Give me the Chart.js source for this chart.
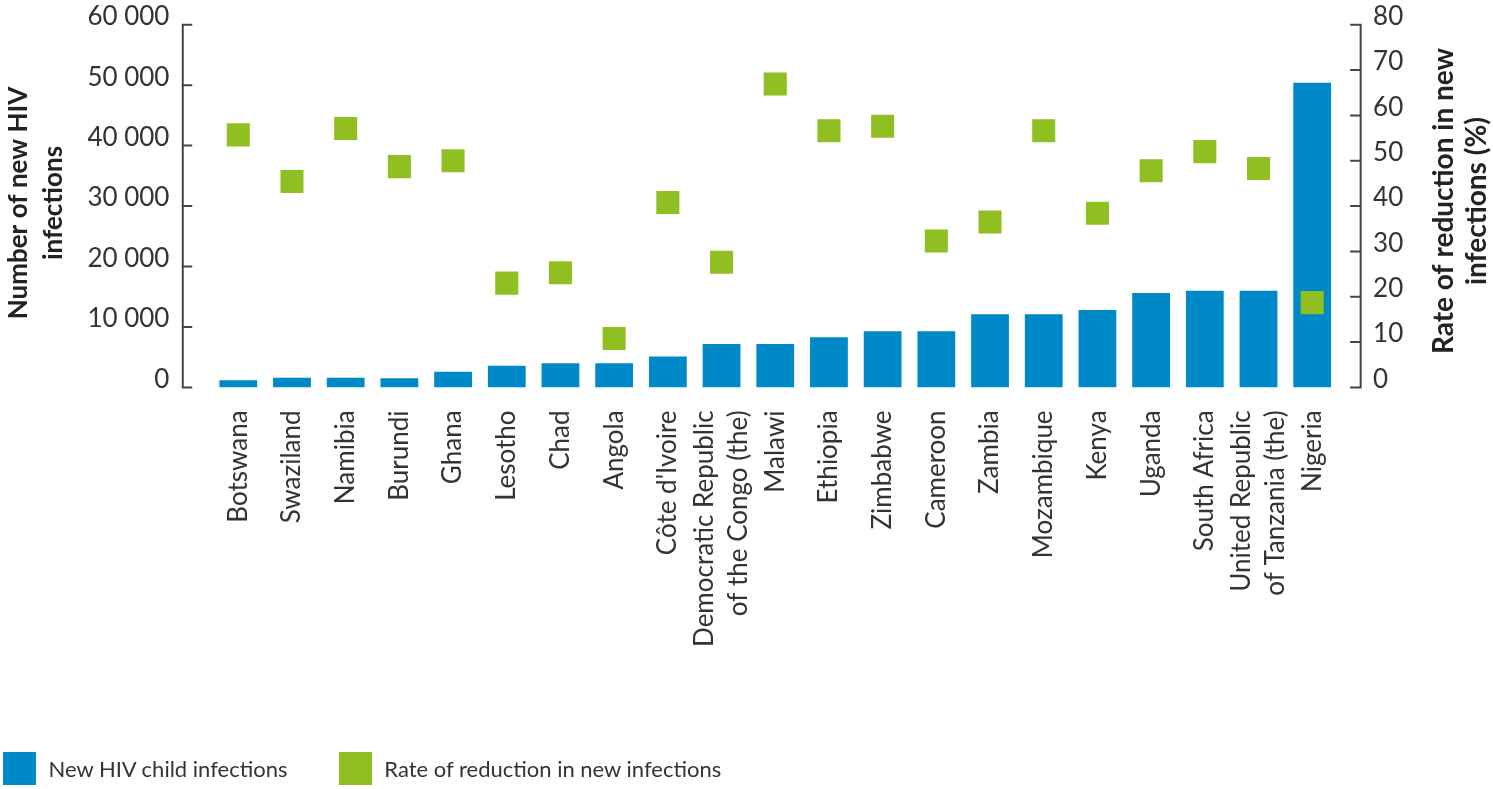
<!DOCTYPE html>
<html>
<head>
<meta charset="utf-8">
<script src="https://cdn.jsdelivr.net/npm/chart.js@4/dist/chart.umd.min.js"></script>
<style>
  html, body { margin: 0; padding: 0; background: #ffffff; }
  #wrap { position: relative; width: 1493px; height: 789px; overflow: hidden; }
  #c { position: absolute; left: 0; top: 0; }
  #legend { position: absolute; left: 0; top: 752.3px; height: 33px; width: 1493px; font-family: Lato, sans-serif; font-size: 22px; color: #333; }
  .li { position: absolute; top: 0; height: 33px; display: flex; align-items: center; white-space: nowrap; }
  .lb { width: 33.3px; height: 33.3px; display: inline-block; margin-right: 12.5px; }
</style>
</head>
<body>
<div id="wrap">
  <canvas id="c" width="1493" height="789"></canvas>
  <div id="legend"></div>
</div>
<script>
// ---- Data ----
const categories = [
  "Botswana", "Swaziland", "Namibia", "Burundi", "Ghana", "Lesotho", "Chad", "Angola",
  "Côte d'Ivoire", ["Democratic Republic", "of the Congo (the)"], "Malawi", "Ethiopia",
  "Zimbabwe", "Cameroon", "Zambia", "Mozambique", "Kenya", "Uganda", "South Africa",
  ["United Republic", "of Tanzania (the)"], "Nigeria"
];
const newChildInfections = [
  1200, 1600, 1600, 1500, 2600, 3600, 4000, 4000, 5100, 7200, 7200, 8300,
  9300, 9300, 12100, 12100, 12800, 15600, 16000, 16000, 50400
];
const reductionRate = [
  55.7, 45.4, 57.1, 48.7, 50.0, 23.0, 25.3, 10.8, 40.8, 27.6, 66.9, 56.6,
  57.6, 32.3, 36.5, 56.6, 38.4, 47.8, 52.0, 48.3, 18.7
];
const leftTickLabels = ["0", "10 000", "20 000", "30 000", "40 000", "50 000", "60 000"];
const rightTickLabels = ["0", "10", "20", "30", "40", "50", "60", "70", "80"];
const seriesNames = ["New HIV child infections", "Rate of reduction in new infections"];
const leftTitle = ["Number of new HIV", "infections"];
const rightTitle = ["Rate of reduction in new", "infections (%)"];

const BLUE = '#0089C9';
const GREEN = '#8FBF21';
const TEXT = '#333333';
const AXIS = '#444444';

// plugin: shift two-line rotated labels so they are centred on the tick,
// and draw the detached axis lines + titles
const axisDecor = {
  id: 'axisDecor',
  beforeDraw(chart) {
    const xs = chart.scales.x;
    const items = xs.getLabelItems();
    items.forEach(it => {
      if (Array.isArray(it.label) && it.label.length > 1 && !it._shifted) {
        it.options.translation[0] -= it.font.lineHeight * (it.label.length - 1) / 2;
        it._shifted = true;
      }
    });
  },
  afterDraw(chart) {
    const { ctx, chartArea: ca, scales } = chart;
    const yL = scales.y, yR = scales.y1;
    const lx = ca.left - 28.7;
    const rx = ca.right + 21.6;
    ctx.save();
    ctx.strokeStyle = AXIS;
    ctx.lineWidth = 2;
    ctx.lineCap = 'butt';
    ctx.beginPath();
    const yTop = yL.getPixelForValue(yL.max), yBot = yL.getPixelForValue(yL.min);
    ctx.moveTo(lx, yTop - 1); ctx.lineTo(lx, yBot + 1);
    yL.ticks.forEach(t => {
      const y = yL.getPixelForValue(t.value);
      ctx.moveTo(lx, y); ctx.lineTo(lx + 9.5, y);
    });
    const rTop = yR.getPixelForValue(yR.max), rBot = yR.getPixelForValue(yR.min);
    ctx.moveTo(rx, rTop - 1); ctx.lineTo(rx, rBot + 1);
    yR.ticks.forEach(t => {
      const y = yR.getPixelForValue(t.value);
      ctx.moveTo(rx, y); ctx.lineTo(rx - 10.5, y);
    });
    ctx.stroke();

    // titles (rotated, reading bottom to top)
    ctx.fillStyle = '#222';
    ctx.textAlign = 'center';
    ctx.textBaseline = 'alphabetic';
    const drawRot = (lines, baselines, cy, font) => {
      ctx.font = font;
      lines.forEach((txt, i) => {
        ctx.save();
        ctx.translate(baselines[i], cy);
        ctx.rotate(-Math.PI / 2);
        ctx.fillText(txt, 0, 0);
        ctx.restore();
      });
    };
    drawRot(leftTitle, [27, 62], 203, 'bold 26px Lato');
    drawRot(rightTitle, [1453, 1486], 201, 'bold 28px Lato');
    ctx.restore();
  }
};

const fmtThousands = v => String(v).replace(/\B(?=(\d{3})+(?!\d))/g, ' ');
const noPad = s => { s.paddingTop = 0; s.paddingBottom = 0; s.paddingLeft = 0; s.paddingRight = 0; };

const chart = new Chart(document.getElementById('c'), {
  data: {
    labels: categories,
    datasets: [
      {
        type: 'line',
        label: seriesNames[1],
        data: reductionRate,
        yAxisID: 'y1',
        showLine: false,
        pointStyle: 'rect',
        pointRadius: 16.3,
        pointHoverRadius: 16.3,
        pointBackgroundColor: GREEN,
        pointBorderWidth: 0,
        backgroundColor: GREEN,
        borderColor: GREEN,
        order: 1
      },
      {
        type: 'bar',
        label: seriesNames[0],
        data: newChildInfections,
        yAxisID: 'y',
        backgroundColor: BLUE,
        borderWidth: 0,
        categoryPercentage: 1.0,
        barPercentage: 0.704,
        order: 2
      }
    ]
  },
  options: {
    responsive: false,
    animation: false,
    layout: { autoPadding: false, padding: { top: 24.7, bottom: 101.6, left: 0, right: 0 } },
    plugins: {
      legend: { display: false },
      tooltip: { enabled: false }
    },
    scales: {
      x: {
        type: 'category',
        offset: true,
        grid: { display: false, drawTicks: false },
        border: { display: false },
        ticks: {
          autoSkip: false,
          minRotation: 90,
          maxRotation: 90,
          padding: 23,
          color: TEXT,
          font: { family: 'Lato', size: 26, lineHeight: 1.32 }
        },
        afterFit(scale) { scale.height = 300; noPad(scale); }
      },
      y: {
        position: 'left',
        min: 0,
        max: 60000,
        grid: { display: false, drawTicks: false },
        border: { display: false },
        ticks: {
          stepSize: 10000,
          padding: 42,
          labelOffset: -8,
          color: TEXT,
          font: { family: 'Lato', size: 26 },
          callback: (v, i) => leftTickLabels[i] !== undefined ? leftTickLabels[i] : fmtThousands(v)
        },
        afterFit(scale) { scale.width = 211.45; noPad(scale); }
      },
      y1: {
        position: 'right',
        min: 0,
        max: 80,
        grid: { display: false, drawTicks: false },
        border: { display: false },
        ticks: {
          stepSize: 10,
          padding: 34,
          labelOffset: -8,
          color: TEXT,
          font: { family: 'Lato', size: 26 },
          callback: (v, i) => rightTickLabels[i] !== undefined ? rightTickLabels[i] : String(v)
        },
        afterFit(scale) { scale.width = 153.95; noPad(scale); }
      }
    }
  },
  plugins: [axisDecor]
});

// HTML legend built from the chart's datasets
const legendEl = document.getElementById('legend');
const legendOrder = [seriesNames[0], seriesNames[1]];
const legendLeft = [2.7, 338.5];
legendOrder.forEach((name, i) => {
  const ds = chart.data.datasets.find(d => d.label === name);
  const div = document.createElement('div');
  div.className = 'li';
  div.style.left = legendLeft[i] + 'px';
  const box = document.createElement('span');
  box.className = 'lb';
  box.style.background = ds.type === 'bar' ? ds.backgroundColor : ds.pointBackgroundColor;
  const txt = document.createElement('span');
  txt.textContent = name;
  div.appendChild(box);
  div.appendChild(txt);
  legendEl.appendChild(div);
});
</script>
</body>
</html>
